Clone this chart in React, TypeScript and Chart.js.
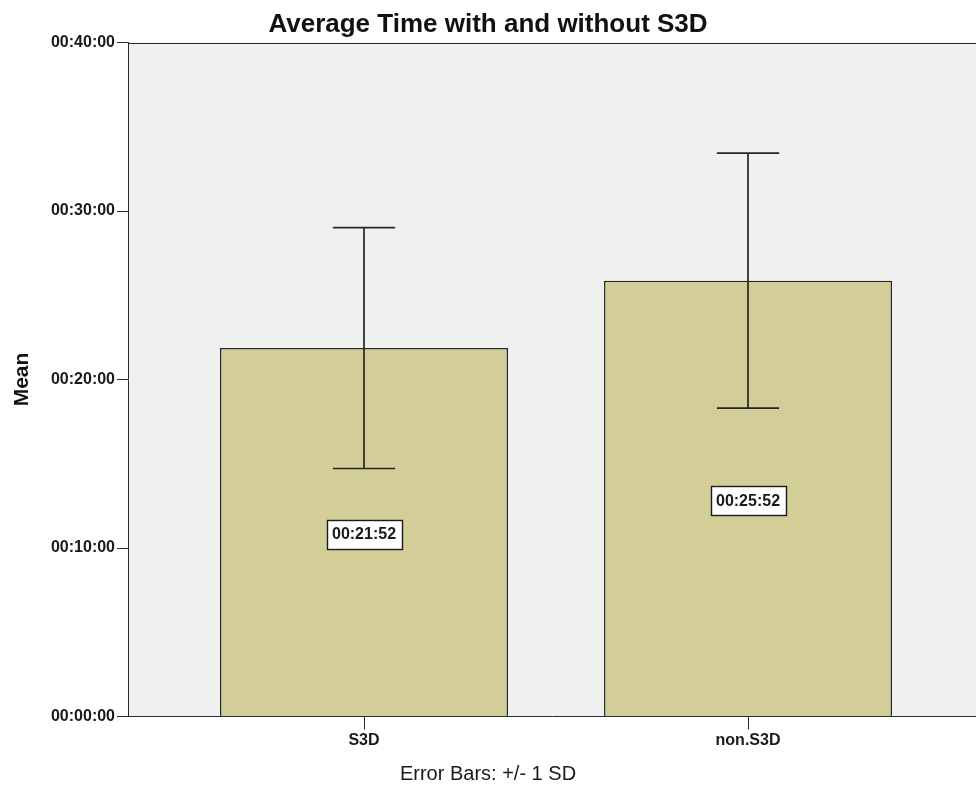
import React, { useEffect, useRef } from 'react';
import { Chart, registerables } from 'chart.js';

Chart.register(...registerables);

// ---- data ----
const categories = ['S3D', 'non.S3D'];
const meanSeconds = [1312, 1552]; // 00:21:52, 00:25:52
const sdSeconds = [429, 454]; // +/- 1 SD
const yTickSeconds = [0, 600, 1200, 1800, 2400];

const TITLE = 'Average Time with and without S3D';
const Y_TITLE = 'Mean';
const FOOTER = 'Error Bars: +/- 1 SD';

const FONT = '"Liberation Sans", Arial, Helvetica, sans-serif';
const BAR_COLOR = '#D3CE98';
const LINE = '#2a2a2a';

function pad2(n: number) {
  return n < 10 ? '0' + n : String(n);
}
function fmt(s: number) {
  const t = Math.round(s);
  const h = Math.floor(t / 3600);
  const m = Math.floor((t % 3600) / 60);
  const sec = t % 60;
  return `${pad2(h)}:${pad2(m)}:${pad2(sec)}`;
}

const plotPlugin = {
  id: 'plotDecor',
  beforeDraw(chart: any) {
    const { ctx, chartArea: a } = chart;
    ctx.save();
    ctx.fillStyle = '#F0F0F0';
    ctx.fillRect(a.left, a.top, a.right - a.left, a.bottom - a.top);
    ctx.restore();
  },
  afterDatasetsDraw(chart: any) {
    const { ctx } = chart;
    const yScale = chart.scales.y;
    const meta = chart.getDatasetMeta(0);
    ctx.save();
    // error bars
    ctx.strokeStyle = '#262626';
    ctx.lineWidth = 1.7;
    meta.data.forEach((bar: any, i: number) => {
      const x = bar.x;
      const hi = yScale.getPixelForValue(meanSeconds[i] + sdSeconds[i]);
      const lo = yScale.getPixelForValue(meanSeconds[i] - sdSeconds[i]);
      const cap = bar.width * 0.108;
      ctx.beginPath();
      ctx.moveTo(x, hi);
      ctx.lineTo(x, lo);
      ctx.moveTo(x - cap, hi);
      ctx.lineTo(x + cap, hi);
      ctx.moveTo(x - cap, lo);
      ctx.lineTo(x + cap, lo);
      ctx.stroke();
    });
    // value labels
    ctx.font = `bold 16px ${FONT}`;
    ctx.textAlign = 'center';
    ctx.textBaseline = 'middle';
    meta.data.forEach((bar: any, i: number) => {
      const text = fmt(meanSeconds[i]);
      const tw = ctx.measureText(text).width;
      const cx = bar.x;
      const cy = (bar.y + bar.base) / 2 + 2;
      const w = Math.round(tw + 11);
      const h = 29;
      const lx = Math.round(cx - w / 2) + 0.5;
      const ly = Math.round(cy - h / 2) + 0.5;
      ctx.fillStyle = '#FFFFFF';
      ctx.fillRect(lx, ly, w, h);
      ctx.strokeStyle = '#1a1a1a';
      ctx.lineWidth = 1.4;
      ctx.strokeRect(lx, ly, w, h);
      ctx.fillStyle = '#1a1a1a';
      ctx.fillText(text, cx, cy + 1);
    });
    ctx.restore();
  },
  afterDraw(chart: any) {
    const { ctx, chartArea: a } = chart;
    ctx.save();
    ctx.strokeStyle = LINE;
    ctx.lineWidth = 1;
    ctx.beginPath();
    ctx.moveTo(a.left, Math.round(a.top) + 0.5);
    ctx.lineTo(a.right, Math.round(a.top) + 0.5);
    ctx.stroke();
    ctx.restore();
  },
};

export default function App() {
  const ref = useRef<HTMLCanvasElement | null>(null);

  useEffect(() => {
    if (!ref.current) return;
    Chart.defaults.font.family = FONT;
    const chart = new Chart(ref.current, {
      type: 'bar',
      data: {
        datasets: [
          {
            data: categories.map((c, i) => ({ x: i, y: meanSeconds[i] })),
            backgroundColor: BAR_COLOR,
            borderColor: LINE,
            borderWidth: 1.5,
            barPercentage: 0.75,
            categoryPercentage: 1,
          },
        ],
      },
      options: {
        responsive: false,
        animation: false,
        devicePixelRatio: 1,
        layout: { padding: 0 },
        plugins: {
          legend: { display: false },
          tooltip: { enabled: false },
          title: {
            display: true,
            text: TITLE,
            color: '#111111',
            font: { family: FONT, size: 26, weight: 'bold', lineHeight: 1.2 },
            padding: { top: 9.5, bottom: 1.8 },
          },
          subtitle: {
            display: true,
            position: 'bottom',
            text: FOOTER,
            color: '#1a1a1a',
            font: { family: FONT, size: 20, weight: 'normal', lineHeight: 1.2 },
            padding: { top: 0, bottom: 3 },
          },
        },
        scales: {
          x: {
            type: 'linear',
            min: -0.6146,
            max: 1.5937,
            offset: false,
            afterBuildTicks: (scale: any) => {
              scale.ticks = categories.map((c, i) => ({ value: i }));
            },
            afterFit: (scale: any) => {
              scale.height = 45.5;
            },
            ticks: {
              callback: (v: any) => categories[Math.round(Number(v))] ?? '',
              color: '#1a1a1a',
              font: { family: FONT, size: 16, weight: 'bold' },
              padding: 1,
              maxRotation: 0,
              autoSkip: false,
            },
            grid: {
              offset: false,
              drawOnChartArea: false,
              drawTicks: true,
              tickLength: 13,
              color: LINE,
              lineWidth: 1,
            },
            border: { display: true, color: LINE, width: 1 },
          },
          y: {
            type: 'linear',
            min: yTickSeconds[0],
            max: yTickSeconds[yTickSeconds.length - 1],
            afterBuildTicks: (scale: any) => {
              scale.ticks = yTickSeconds.map((v) => ({ value: v }));
            },
            afterFit: (scale: any) => {
              scale.width = 128;
            },
            ticks: {
              callback: (v: any) => fmt(Number(v)),
              color: '#1a1a1a',
              font: { family: FONT, size: 16, weight: 'bold' },
              padding: 2,
            },
            grid: {
              drawOnChartArea: false,
              drawTicks: true,
              tickLength: 11,
              color: LINE,
              lineWidth: 1,
            },
            border: { display: true, color: LINE, width: 1 },
            title: {
              display: true,
              text: Y_TITLE,
              color: '#111111',
              font: { family: FONT, size: 21, weight: 'bold', lineHeight: 1.2 },
              padding: { top: 9.4, bottom: 0 },
            },
          },
        },
      },
      plugins: [plotPlugin],
    } as any);
    return () => chart.destroy();
  }, []);

  return (
    <div style={{ position: 'absolute', left: 0, top: 0, width: 976, height: 789, background: '#FFFFFF' }}>
      <canvas ref={ref} width={976} height={789} style={{ display: 'block' }} />
    </div>
  );
}
